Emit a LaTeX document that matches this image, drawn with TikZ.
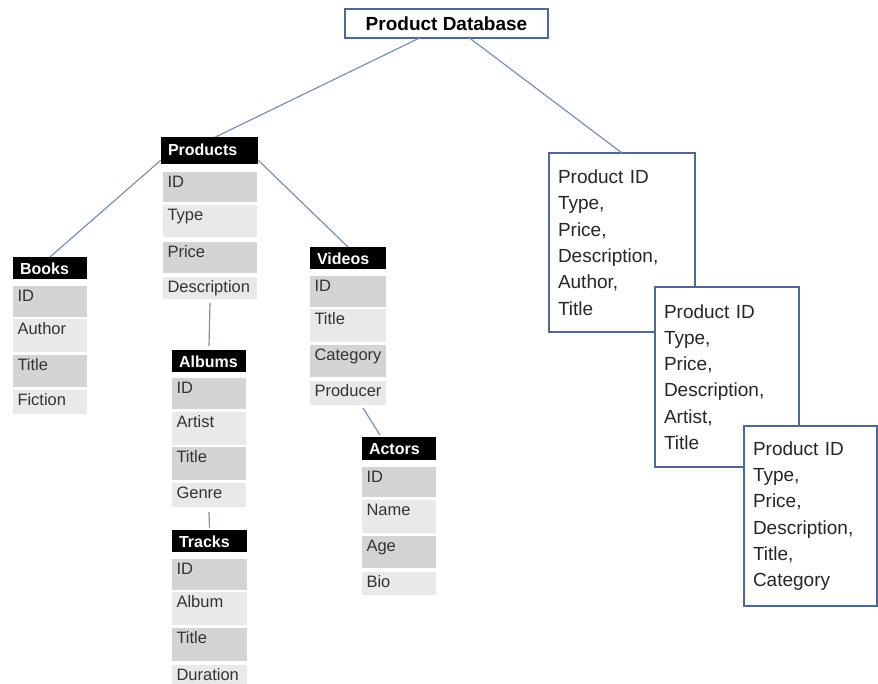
\documentclass[tikz,border=0pt]{standalone}
\usepackage{fontspec}
\setmainfont{Liberation Sans}
\definecolor{rowdark}{HTML}{D4D4D4}
\definecolor{rowlight}{HTML}{E9E9E9}
\definecolor{conn}{HTML}{7B90B5}
\definecolor{boxline}{HTML}{4F6796}
\begin{document}
\begin{tikzpicture}[x=1pt,y=-1pt,
  hdr/.style={anchor=north west, fill=black, text=white, font=\bfseries\fontsize{16}{18}\selectfont, inner xsep=7pt, inner ysep=0pt, text height=17pt, text depth=5pt, align=left, outer sep=0pt},
  cell/.style={anchor=north west, font=\fontsize{16.5}{18}\selectfont, text=black!80, inner xsep=4.5pt, inner ysep=0pt, text height=15pt, align=left, outer sep=0pt},
  dk/.style={cell, fill=rowdark},
  lt/.style={cell, fill=rowlight},
  link/.style={draw=conn, line width=1.2pt},
  recbox/.style={draw=boxline, line width=1.5pt, fill=white, anchor=north west, align=left, inner xsep=9pt, outer sep=0pt, font=\fontsize{19}{26.3}\selectfont, text=black!85}
]
\useasboundingbox (0,0) rectangle (878,683);

% Title
\node[draw=boxline, line width=1.5pt, minimum width=203pt, minimum height=29pt, inner sep=0pt, outer sep=0pt, font=\bfseries\fontsize{19}{22}\selectfont] (pd) at (446.5,23.5) {Product Database};

% Products
\node[hdr, text width=83pt, text height=18pt, text depth=9pt] (prodh) at (161,137) {Products};
\node[dk, text width=85pt, text depth=15pt] (pid) at (163,172) {ID};
\node[lt, text width=85pt, text depth=17pt] (ptype) at (163,205) {Type};
\node[dk, text width=85pt, text depth=16pt] (pprice) at (163,242) {Price};
\node[lt, text width=85pt, text depth=7pt] (pdesc) at (163,277) {Description};

% Books
\node[hdr, text width=60pt] (booksh) at (13,257) {Books};
\node[dk, text width=65pt, text depth=16pt] (bid) at (13,286) {ID};
\node[lt, text width=65pt, text depth=18pt] (bauth) at (13,319) {Author};
\node[dk, text width=65pt, text depth=17pt] (btitle) at (13,355) {Title};
\node[lt, text width=65pt, text depth=9pt] (bfic) at (13,390) {Fiction};

% Albums
\node[hdr, text width=60pt] (albh) at (172,350) {Albums};
\node[dk, text width=65pt, text depth=16pt] (aid) at (172,378) {ID};
\node[lt, text width=65pt, text depth=18pt] (aart) at (172,412) {Artist};
\node[dk, text width=65pt, text depth=18pt] (atitle) at (172,447) {Title};
\node[lt, text width=65pt, text depth=9pt] (agenre) at (172,483) {Genre};

% Tracks
\node[hdr, text width=61pt] (trkh) at (172,530) {Tracks};
\node[dk, text width=66pt, text depth=16pt] (tid) at (172,559) {ID};
\node[lt, text width=66pt, text depth=18pt] (talb) at (172,592) {Album};
\node[dk, text width=66pt, text depth=18pt] (ttitle) at (172,628) {Title};
\node[lt, text width=66pt, text depth=9pt] (tdur) at (172,665) {Duration};

% Videos
\node[hdr, text width=62pt] (vidh) at (310,247) {Videos};
\node[dk, text width=67pt, text depth=16pt] (vid) at (310,276) {ID};
\node[lt, text width=67pt, text depth=18pt] (vtitle) at (310,309) {Title};
\node[dk, text width=67pt, text depth=17pt] (vcat) at (310,345) {Category};
\node[lt, text width=67pt, text depth=9pt] (vprod) at (310,381) {Producer};

% Actors
\node[hdr, text width=60pt, text depth=6pt] (acth) at (362,437) {Actors};
\node[dk, text width=65pt, text depth=15pt] (acid) at (362,467) {ID};
\node[lt, text width=65pt, text depth=18pt] (acname) at (362,500) {Name};
\node[dk, text width=65pt, text depth=17pt] (acage) at (362,536) {Age};
\node[lt, text width=65pt, text depth=8pt] (acbio) at (362,572) {Bio};

% Right boxes
\node[recbox, text width=128pt, minimum height=179pt] (box1) at (549,153) {Product ID\\Type,\\Price,\\Description,\\Author,\\Title};
\node[recbox, text width=126pt, minimum height=180pt] (box2) at (655,287) {Product ID\\Type,\\Price,\\Description,\\Artist,\\Title};
\node[recbox, text width=115pt, minimum height=180pt] (box3) at (744,426) {Product ID\\Type,\\Price,\\Description,\\Title,\\Category};

% Connectors
\draw[link] ([xshift=-27pt]pd.south) -- ([xshift=6pt]prodh.north);
\draw[link] ([xshift=23pt]pd.south) -- (box1.north);
\draw[link] ([yshift=4pt]prodh.south west) -- (booksh.north);
\draw[link] ([yshift=4pt]prodh.south east) -- (vidh.north);
\draw[link] ([yshift=-4pt]pdesc.south) -- ([yshift=4pt]albh.north);
\draw[link] ([yshift=-5pt]agenre.south) -- ([yshift=2pt]trkh.north);
\draw[link] ([xshift=15pt,yshift=-3pt]vprod.south) -- ([xshift=18pt,yshift=2pt]acth.north west);
\end{tikzpicture}
\end{document}
